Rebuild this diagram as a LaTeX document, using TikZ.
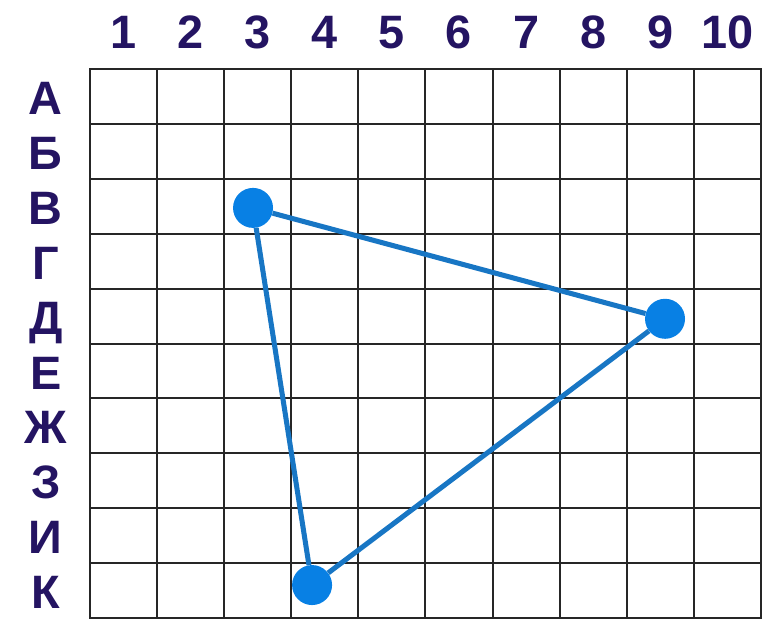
\documentclass[tikz,border=0pt]{standalone}
\usepackage{fontspec}
\setmainfont{Liberation Sans}
\usetikzlibrary{positioning}
\definecolor{labelnavy}{RGB}{36,20,98}
\definecolor{dotblue}{RGB}{8,128,228}
\definecolor{lineblue}{RGB}{24,118,196}

\begin{document}
\begin{tikzpicture}[
    x=2.013cm, y=-1.647cm,
    gridline/.style={draw=black!85, line width=1.7pt, line cap=rect},
    celllabel/.style={font=\fontsize{40}{40}\selectfont\bfseries, text=labelnavy, inner sep=0pt, text height=29pt, text depth=0pt},
    pointdot/.style={circle, fill=dotblue, minimum size=1.2cm, inner sep=0pt},
    side/.style={draw=lineblue, line width=4.3pt}
]
\useasboundingbox (-1.341,-1.257) rectangle (10.060,10.036);

% the 10x10 board
\foreach \i in {0,...,10} {
    \draw[gridline] (\i,0) -- (\i,10);
    \draw[gridline] (0,\i) -- (10,\i);
}

% column numbers and row letters
\foreach \c in {1,...,10}
    \node[celllabel] (col\c) at (\c-0.5,-0.69) {\c};
\foreach \r/\l in {1/А,2/Б,3/В,4/Г,5/Д,6/Е,7/Ж,8/З,9/И,10/К}
    \node[celllabel] (row\r) at (-0.66,\r-0.48) {\l};

% the three marked cells
\node[pointdot] (v3) at (2.43,2.53) {};
\node[pointdot] (d9) at (8.57,4.55) {};
\node[pointdot] (k4) at (3.31,9.40) {};

\draw[side] (v3) -- (d9);
\draw[side] (d9) -- (k4);
\draw[side] (k4) -- (v3);

\end{tikzpicture}
\end{document}
